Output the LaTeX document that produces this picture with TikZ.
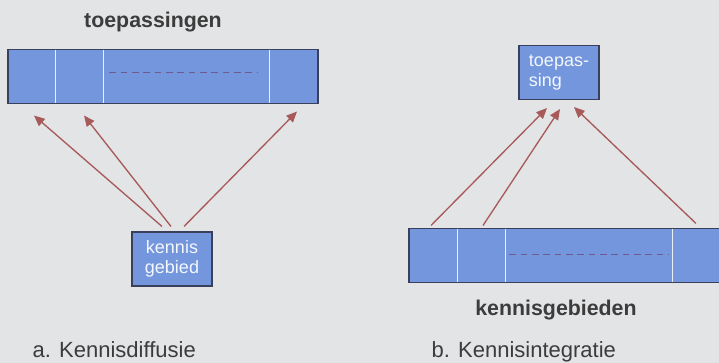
\documentclass[tikz,border=0pt]{standalone}
\usepackage{fontspec}
\setmainfont{Liberation Sans}
\usepackage{tikz}
\usetikzlibrary{arrows.meta,positioning,calc}
\usepackage{xcolor}
\definecolor{paper}{HTML}{E2E4E6}
\definecolor{kbblue}{HTML}{7396DD}
\definecolor{kbedge}{HTML}{3A3F5C}
\definecolor{kbarrow}{HTML}{A85A5A}
\definecolor{kbtext}{HTML}{3C3C3C}
\definecolor{kbdash}{HTML}{6E5A8C}

\tikzset{
  bar/.style={draw=kbedge, fill=kbblue, line width=0.8pt, inner sep=0pt},
  kbox/.style={bar, text=white!92!kbblue, font=\fontsize{13.5}{15.5}\selectfont, minimum width=60pt, minimum height=40.5pt},
  sep/.style={draw=white!85!kbblue, line width=1pt, shorten >=0.5pt, shorten <=0.5pt},
  gap/.style={draw=kbdash, line width=0.6pt, dash pattern=on 5pt off 3.5pt},
  link/.style={draw=kbarrow, line width=1pt, -{Triangle[length=8pt,width=7pt]}},
  title/.style={text=kbtext, font=\fontsize{16}{18}\selectfont\bfseries, anchor=base},
  caption/.style={text=kbtext, font=\fontsize{16.5}{18}\selectfont, anchor=base west}
}

\begin{document}
\begin{tikzpicture}[x=0.75pt,y=-0.75pt]
  \useasboundingbox[fill=paper] (0,0) rectangle (719,363);

  % a. kennisdiffusie
  \node[title] (toep) at (153,28) {toepassingen};
  \node[bar, minimum width=232.5pt, minimum height=40.5pt] (apps) at (163,76.5) {};
  \foreach \x in {48,96,262}
    \draw[sep] ($(apps.north west)+(\x,0)$) -- ($(apps.south west)+(\x,0)$);
  \draw[gap] ($(apps.north west)+(102,23)$) -- ($(apps.north west)+(250,23)$);
  \node[kbox, align=center] (kg) at (172,259) {kennis\\gebied};
  \foreach \s/\t/\h in {-10/-129/11.5, -1/-79/11.5, 12/134/7.5}
    \draw[link] ($(kg.north)+(\s,-5)$) -- ($(apps.south)+(\t,\h)$);
  \node[caption] (capa) at (28,358) {a. Kennisdiffusie};

  % b. kennisintegratie
  \node[kbox, align=left] (tp) at (559,72.5) {toepas-\\sing};
  \node[bar, minimum width=233.25pt, minimum height=40.5pt] (kgb) at (564.5,255.5) {};
  \foreach \x in {49,97,264}
    \draw[sep] ($(kgb.north west)+(\x,0)$) -- ($(kgb.south west)+(\x,0)$);
  \draw[gap] ($(kgb.north west)+(101,26)$) -- ($(kgb.north west)+(261,26)$);
  \foreach \s/\h/\t/\v in {-133.5/-2.5/-12/8, -81.5/-2.5/1/9, 131.5/-4.5/15/7}
    \draw[link] ($(kgb.north)+(\s,\h)$) -- ($(tp.south)+(\t,\v)$);
  \node[title] (kgl) at (556,316) {kennisgebieden};
  \node[caption] (capb) at (427,358) {b. Kennisintegratie};
\end{tikzpicture}
\end{document}
